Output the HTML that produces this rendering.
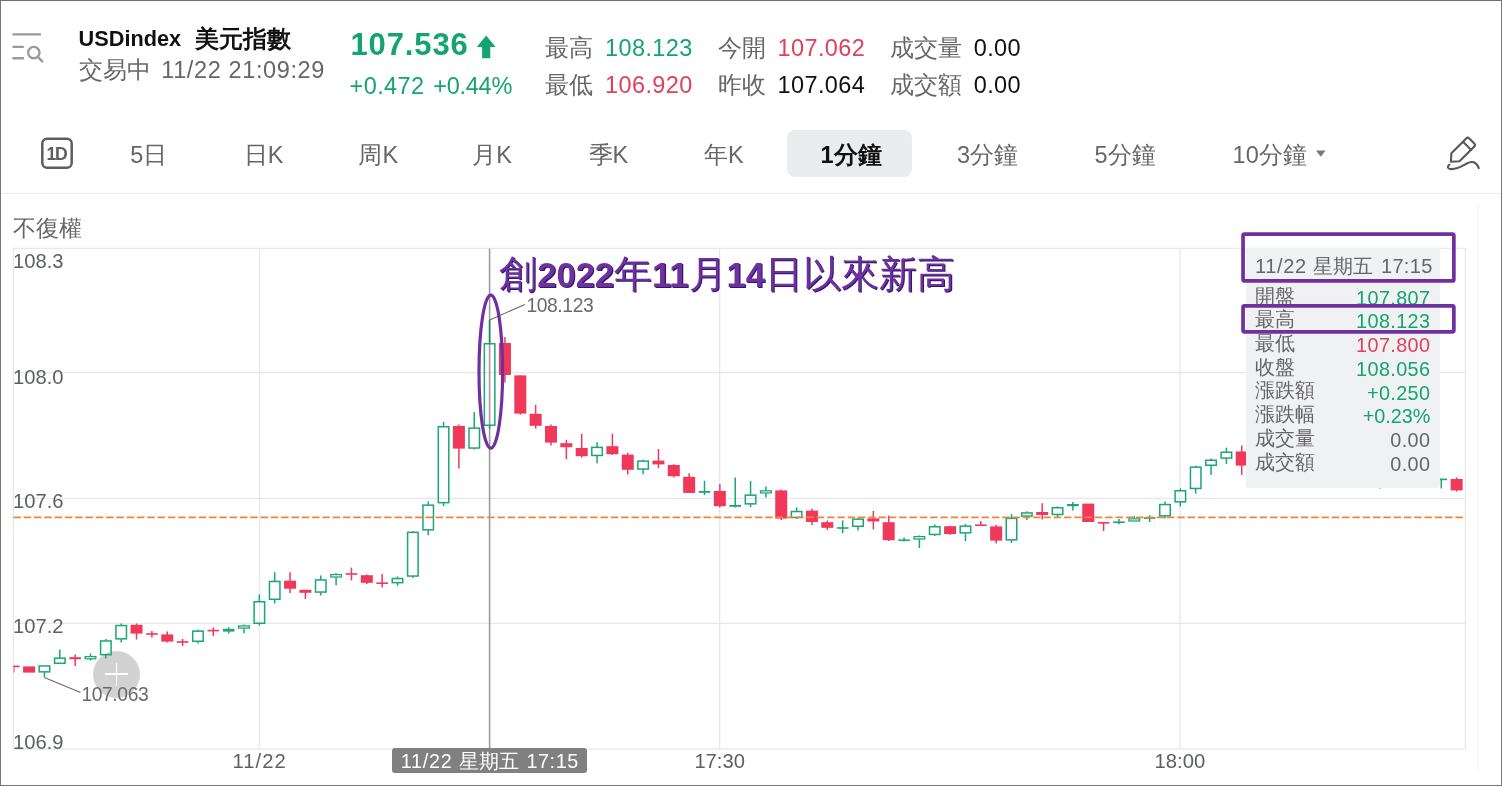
<!DOCTYPE html>
<html lang="zh-Hant">
<head>
<meta charset="utf-8">
<title>USDindex 美元指數</title>
<style>
*{margin:0;padding:0;box-sizing:border-box}
html,body{width:1502px;height:786px;overflow:hidden;background:#fff}
body{position:relative;will-change:transform;font-family:"Liberation Sans",sans-serif;color:#666;-webkit-font-smoothing:antialiased}
.t{position:absolute;white-space:nowrap;line-height:1;font-size:23.5px}
.n{letter-spacing:.4px}
.cj{display:inline-block;white-space:nowrap;font-size:23.5px;letter-spacing:0}
.g{color:#14a46f}
.r{color:#e0405c}
.k{color:#111}
.b{font-weight:bold}
.frame{position:absolute;left:0;top:0;width:1502px;height:786px;border:1px solid #777;border-top-color:#6e6e6e;pointer-events:none}
.sep{position:absolute;left:1px;top:193px;width:1500px;height:1px;background:#ececec}
.tab{top:144.1px}
.sel{position:absolute;left:787px;top:129.5px;width:125px;height:47.5px;border-radius:8px;background:#ebecee}
.ax{font-size:20.2px;color:#5c5f64}
.tip{position:absolute;left:1245.5px;top:248px;width:194.5px;height:239.6px;background:#f0f1f3;border-radius:0 0 3px 3px}
.tip .t{font-size:19.8px}
.tip .cj{font-size:19.8px}
.tag{position:absolute;left:392px;top:748px;width:195px;height:25px;border-radius:3px;background:#808080}
.tag .t{color:#fff;font-size:19.8px}
.tag .cj{font-size:20px}
.pbox{position:absolute;border:3.6px solid #7030a0;border-radius:2px}
.note{position:absolute;left:499.3px;top:255.3px;white-space:nowrap;line-height:1;font-family:"Liberation Serif",serif;font-weight:normal;font-size:38px;color:#7030a0;text-shadow:1.1px .5px 0 #2a1868}
.note b{font-family:"Liberation Sans",sans-serif;font-size:34.5px;font-weight:bold}
.plus{position:absolute;left:93px;top:650.5px;width:47px;height:47px;border-radius:50%;background:#d2d2d2}
.plus:before,.plus:after{content:"";position:absolute;background:#fff}
.plus:before{left:12px;top:22.7px;width:23px;height:1.7px}
.plus:after{left:22.7px;top:12px;width:1.7px;height:23px}
svg{position:absolute;left:0;top:0}
</style>
</head>
<body>

<!-- header -->
<svg width="60" height="80" viewBox="0 0 60 80" fill="none" stroke="#9a9a9a" stroke-width="2.35" stroke-linecap="round">
<path d="M13.4 34.4H40M13.4 46.8H23M13.4 58.2H23"/>
<circle cx="33.8" cy="52.6" r="5.7"/>
<path d="M38 57l4.2 4.4"/>
</svg>

<div class="t b k" style="left:78.6px;top:28.4px;font-size:21.7px">USDindex</div>
<div class="t b k" style="left:194.6px;top:27.5px"><span class="cj" style="width:95px;font-size:23.7px">美元指數</span></div>
<div class="t" style="left:78.6px;top:58.6px"><span class="cj" style="width:82.6px">交易中</span><span style="letter-spacing:.62px">11/22 21:09:29</span></div>

<div class="t b g" style="left:350.4px;top:28.5px;font-size:31px;letter-spacing:.9px">107.536</div>
<svg width="30" height="30" viewBox="0 0 30 30" style="left:472px;top:32px"><path d="M14.2 3.5L4.8 14.9h5.3v11.4h8.2V14.9h5.3z" fill="#14a46f"/></svg>
<div class="t g n" style="left:349.6px;top:75.3px">+0.472</div>
<div class="t g" style="left:433.2px;top:75.3px;letter-spacing:-.25px">+0.44%</div>

<div class="t" style="left:545px;top:36.5px"><span class="cj" style="width:60px">最高</span><span class="g n">108.123</span></div>
<div class="t" style="left:545px;top:74.3px"><span class="cj" style="width:60px">最低</span><span class="r n">106.920</span></div>
<div class="t" style="left:718.2px;top:36.5px"><span class="cj" style="width:59.3px">今開</span><span class="r n">107.062</span></div>
<div class="t" style="left:718.2px;top:74.3px"><span class="cj" style="width:59.3px">昨收</span><span class="k n">107.064</span></div>
<div class="t" style="left:890.3px;top:36.5px"><span class="cj" style="width:83.4px">成交量</span><span class="k n">0.00</span></div>
<div class="t" style="left:890.3px;top:74.3px"><span class="cj" style="width:83.4px">成交額</span><span class="k n">0.00</span></div>

<!-- period tabs -->
<div class="sel"></div>
<svg width="40" height="40" viewBox="0 0 40 40" style="left:37px;top:133px" fill="none" stroke="#5e5e5e" stroke-width="2.5"><rect x="5.3" y="5.7" width="29.4" height="29" rx="4.8"/></svg>
<div class="t b" style="left:46.4px;top:146.4px;font-size:17.6px;letter-spacing:-1.2px;color:#5e5e5e">1D</div>
<div class="t tab" style="left:130.2px">5<span class="cj">日</span></div>
<div class="t tab" style="left:243.8px"><span class="cj">日</span>K</div>
<div class="t tab" style="left:358.4px"><span class="cj">周</span>K</div>
<div class="t tab" style="left:472.3px"><span class="cj">月</span>K</div>
<div class="t tab" style="left:588.6px"><span class="cj">季</span>K</div>
<div class="t tab" style="left:704px"><span class="cj">年</span>K</div>
<div class="t tab b k" style="left:820.5px">1<span class="cj">分鐘</span></div>
<div class="t tab" style="left:957px">3<span class="cj">分鐘</span></div>
<div class="t tab" style="left:1094.6px">5<span class="cj">分鐘</span></div>
<div class="t tab" style="left:1232.4px"><span class="n">10</span><span class="cj">分鐘</span></div>
<svg width="12" height="8" viewBox="0 0 12 8" style="left:1315.4px;top:150px"><path d="M1 .4h9.6L5.8 6.8z" fill="#787878"/></svg>
<svg width="40" height="44" viewBox="1444 132 40 44" style="left:1444px;top:132px" fill="none" stroke="#585858" stroke-width="2.1" stroke-linecap="round" stroke-linejoin="round">
<path d="M1451.4 153.2L1466.2 138.4a2.2 2.2 0 0 1 3.1 0l5 5a2.2 2.2 0 0 1 0 3.1L1459.5 161.3l-8.6 .5z"/>
<path d="M1463 141.8l8.2 8.2"/>
<path d="M1449.4 164.6c-2.2 1.6-2 4 .6 4.4c6 .9 11-2.300 16.800-5.500c5.6-3.100 9.400-1.600 12 4.600"/>
</svg>
<div class="sep"></div>

<!-- chart -->
<div class="plus"></div>
<div class="t" style="left:12.8px;top:217.4px"><span class="cj" style="font-size:23px">不復權</span></div>

<svg width="1502" height="786" viewBox="0 0 1502 786" shape-rendering="auto">
<g stroke="#e6e8ea" stroke-width="1.3" fill="none">
<rect x="13.4" y="248.4" width="1452" height="500.6"/>
<path d="M13.4 372.7H1465.4M13.4 498.3H1465.4M13.4 623.3H1465.4"/>
<path d="M259.5 248.4V749M719.6 248.4V749M1180 248.4V749"/>
</g>
<path d="M1478 205V770" stroke="#f1f2f3" stroke-width="1.2"/>
<line x1="489.6" y1="248.4" x2="489.6" y2="749" stroke="#9c9c9c" stroke-width="1.6"/>
<clipPath id="cc"><rect x="13.6" y="248" width="1452" height="501"/></clipPath>
<g clip-path="url(#cc)">
<line x1="13.75" y1="665.6" x2="13.75" y2="672.4" stroke="#f0385a" stroke-width="1.5"/>
<rect x="7.95" y="665.6" width="11.6" height="1.6" fill="#f0385a"/>
<rect x="23.1" y="666.4" width="12" height="6.2" fill="#f0385a"/>
<line x1="44.45" y1="672.2" x2="44.45" y2="677.6" stroke="#1ba672" stroke-width="1.5"/>
<rect x="39.2" y="665.95" width="10.5" height="5.9" fill="none" stroke="#1ba672" stroke-width="1.5"/>
<line x1="59.8" y1="649.4" x2="59.8" y2="657.8" stroke="#1ba672" stroke-width="1.5"/>
<rect x="54.55" y="658.15" width="10.5" height="5.1" fill="none" stroke="#1ba672" stroke-width="1.5"/>
<line x1="75.15" y1="654.4" x2="75.15" y2="666" stroke="#f0385a" stroke-width="1.5"/>
<rect x="69.35" y="657.2" width="11.6" height="2" fill="#f0385a"/>
<line x1="90.5" y1="653.6" x2="90.5" y2="656.4" stroke="#1ba672" stroke-width="1.5"/>
<line x1="90.5" y1="659" x2="90.5" y2="660.4" stroke="#1ba672" stroke-width="1.5"/>
<rect x="85.12" y="656.62" width="10.75" height="2.15" fill="none" stroke="#1ba672" stroke-width="1.25"/>
<line x1="105.85" y1="639" x2="105.85" y2="640.6" stroke="#1ba672" stroke-width="1.5"/>
<line x1="105.85" y1="655" x2="105.85" y2="658.6" stroke="#1ba672" stroke-width="1.5"/>
<rect x="100.6" y="640.95" width="10.5" height="13.7" fill="none" stroke="#1ba672" stroke-width="1.5"/>
<line x1="121.2" y1="623.6" x2="121.2" y2="625.2" stroke="#1ba672" stroke-width="1.5"/>
<line x1="121.2" y1="639.2" x2="121.2" y2="642.4" stroke="#1ba672" stroke-width="1.5"/>
<rect x="115.95" y="625.55" width="10.5" height="13.3" fill="none" stroke="#1ba672" stroke-width="1.5"/>
<line x1="136.55" y1="623.6" x2="136.55" y2="639.4" stroke="#f0385a" stroke-width="1.5"/>
<rect x="130.55" y="624.8" width="12" height="8.8" fill="#f0385a"/>
<line x1="151.9" y1="631" x2="151.9" y2="637.6" stroke="#f0385a" stroke-width="1.5"/>
<rect x="146.1" y="633.2" width="11.6" height="1.6" fill="#f0385a"/>
<line x1="167.25" y1="631.4" x2="167.25" y2="642.4" stroke="#f0385a" stroke-width="1.5"/>
<rect x="161.25" y="634.4" width="12" height="7.2" fill="#f0385a"/>
<line x1="182.6" y1="639" x2="182.6" y2="646" stroke="#f0385a" stroke-width="1.5"/>
<rect x="176.8" y="641.2" width="11.6" height="1.6" fill="#f0385a"/>
<line x1="197.95" y1="629.6" x2="197.95" y2="630.8" stroke="#1ba672" stroke-width="1.5"/>
<line x1="197.95" y1="641.6" x2="197.95" y2="643.6" stroke="#1ba672" stroke-width="1.5"/>
<rect x="192.7" y="631.15" width="10.5" height="10.1" fill="none" stroke="#1ba672" stroke-width="1.5"/>
<line x1="213.3" y1="627.6" x2="213.3" y2="636" stroke="#f0385a" stroke-width="1.5"/>
<rect x="207.5" y="629.8" width="11.6" height="1.6" fill="#f0385a"/>
<line x1="228.65" y1="627.2" x2="228.65" y2="633.6" stroke="#1ba672" stroke-width="1.5"/>
<rect x="222.85" y="628.8" width="11.6" height="2.8" fill="#1ba672"/>
<line x1="244" y1="624.4" x2="244" y2="625.7" stroke="#1ba672" stroke-width="1.5"/>
<line x1="244" y1="628.3" x2="244" y2="633.2" stroke="#1ba672" stroke-width="1.5"/>
<rect x="238.62" y="625.92" width="10.75" height="2.15" fill="none" stroke="#1ba672" stroke-width="1.25"/>
<line x1="259.35" y1="594.4" x2="259.35" y2="601.4" stroke="#1ba672" stroke-width="1.5"/>
<line x1="259.35" y1="623.6" x2="259.35" y2="625.4" stroke="#1ba672" stroke-width="1.5"/>
<rect x="254.1" y="601.75" width="10.5" height="21.5" fill="none" stroke="#1ba672" stroke-width="1.5"/>
<line x1="274.7" y1="572.2" x2="274.7" y2="581.1" stroke="#1ba672" stroke-width="1.5"/>
<line x1="274.7" y1="599.6" x2="274.7" y2="603.5" stroke="#1ba672" stroke-width="1.5"/>
<rect x="269.45" y="581.45" width="10.5" height="17.8" fill="none" stroke="#1ba672" stroke-width="1.5"/>
<line x1="290.05" y1="572.2" x2="290.05" y2="593.1" stroke="#f0385a" stroke-width="1.5"/>
<rect x="284.05" y="580.7" width="12" height="8" fill="#f0385a"/>
<line x1="305.4" y1="589.8" x2="305.4" y2="599" stroke="#f0385a" stroke-width="1.5"/>
<rect x="299.4" y="589.8" width="12" height="3" fill="#f0385a"/>
<line x1="320.75" y1="575.6" x2="320.75" y2="579.6" stroke="#1ba672" stroke-width="1.5"/>
<line x1="320.75" y1="592.4" x2="320.75" y2="595.6" stroke="#1ba672" stroke-width="1.5"/>
<rect x="315.5" y="579.95" width="10.5" height="12.1" fill="none" stroke="#1ba672" stroke-width="1.5"/>
<line x1="336.1" y1="573.2" x2="336.1" y2="574.4" stroke="#1ba672" stroke-width="1.5"/>
<line x1="336.1" y1="577.2" x2="336.1" y2="585.2" stroke="#1ba672" stroke-width="1.5"/>
<rect x="330.72" y="574.62" width="10.75" height="2.35" fill="none" stroke="#1ba672" stroke-width="1.25"/>
<line x1="351.45" y1="567.6" x2="351.45" y2="580.4" stroke="#f0385a" stroke-width="1.5"/>
<rect x="345.65" y="573.2" width="11.6" height="1.6" fill="#f0385a"/>
<line x1="366.8" y1="574.4" x2="366.8" y2="584" stroke="#f0385a" stroke-width="1.5"/>
<rect x="360.8" y="575.2" width="12" height="7.6" fill="#f0385a"/>
<line x1="382.15" y1="574" x2="382.15" y2="587.6" stroke="#f0385a" stroke-width="1.5"/>
<rect x="376.35" y="582.4" width="11.6" height="1.6" fill="#f0385a"/>
<line x1="397.5" y1="576.4" x2="397.5" y2="578.2" stroke="#1ba672" stroke-width="1.5"/>
<line x1="397.5" y1="583" x2="397.5" y2="585.8" stroke="#1ba672" stroke-width="1.5"/>
<rect x="392.25" y="578.55" width="10.5" height="4.1" fill="none" stroke="#1ba672" stroke-width="1.5"/>
<line x1="412.85" y1="531" x2="412.85" y2="532" stroke="#1ba672" stroke-width="1.5"/>
<line x1="412.85" y1="576.4" x2="412.85" y2="578" stroke="#1ba672" stroke-width="1.5"/>
<rect x="407.6" y="532.35" width="10.5" height="43.7" fill="none" stroke="#1ba672" stroke-width="1.5"/>
<line x1="428.2" y1="501.6" x2="428.2" y2="504.8" stroke="#1ba672" stroke-width="1.5"/>
<line x1="428.2" y1="530.2" x2="428.2" y2="535.2" stroke="#1ba672" stroke-width="1.5"/>
<rect x="422.95" y="505.15" width="10.5" height="24.7" fill="none" stroke="#1ba672" stroke-width="1.5"/>
<line x1="443.55" y1="421.8" x2="443.55" y2="426.4" stroke="#1ba672" stroke-width="1.5"/>
<line x1="443.55" y1="503" x2="443.55" y2="506" stroke="#1ba672" stroke-width="1.5"/>
<rect x="438.3" y="426.75" width="10.5" height="75.9" fill="none" stroke="#1ba672" stroke-width="1.5"/>
<line x1="458.9" y1="424.6" x2="458.9" y2="468.6" stroke="#f0385a" stroke-width="1.5"/>
<rect x="452.9" y="426" width="12" height="22.6" fill="#f0385a"/>
<line x1="474.25" y1="412" x2="474.25" y2="427.8" stroke="#1ba672" stroke-width="1.5"/>
<line x1="474.25" y1="448.4" x2="474.25" y2="449.6" stroke="#1ba672" stroke-width="1.5"/>
<rect x="469" y="428.15" width="10.5" height="19.9" fill="none" stroke="#1ba672" stroke-width="1.5"/>
<line x1="489.6" y1="320" x2="489.6" y2="343.4" stroke="#0e8a5c" stroke-width="1.5"/>
<line x1="489.6" y1="425.6" x2="489.6" y2="428.8" stroke="#1ba672" stroke-width="1.5"/>
<rect x="484.35" y="343.75" width="10.5" height="81.5" fill="none" stroke="#1ba672" stroke-width="1.5"/>
<line x1="504.95" y1="337" x2="504.95" y2="382.6" stroke="#f0385a" stroke-width="1.5"/>
<rect x="498.95" y="343" width="12" height="32" fill="#f0385a"/>
<line x1="520.3" y1="375.4" x2="520.3" y2="414.6" stroke="#f0385a" stroke-width="1.5"/>
<rect x="514.3" y="375.4" width="12" height="38.2" fill="#f0385a"/>
<line x1="535.65" y1="404.7" x2="535.65" y2="428.6" stroke="#f0385a" stroke-width="1.5"/>
<rect x="529.65" y="413.8" width="12" height="12" fill="#f0385a"/>
<line x1="551" y1="424.5" x2="551" y2="445.4" stroke="#f0385a" stroke-width="1.5"/>
<rect x="545" y="426" width="12" height="16.6" fill="#f0385a"/>
<line x1="566.35" y1="439.8" x2="566.35" y2="459.2" stroke="#f0385a" stroke-width="1.5"/>
<rect x="560.35" y="443.2" width="12" height="4" fill="#f0385a"/>
<line x1="581.7" y1="434" x2="581.7" y2="457.6" stroke="#f0385a" stroke-width="1.5"/>
<rect x="575.7" y="448" width="12" height="8.2" fill="#f0385a"/>
<line x1="597.05" y1="442.2" x2="597.05" y2="447" stroke="#1ba672" stroke-width="1.5"/>
<line x1="597.05" y1="455.8" x2="597.05" y2="463.2" stroke="#1ba672" stroke-width="1.5"/>
<rect x="591.8" y="447.35" width="10.5" height="8.1" fill="none" stroke="#1ba672" stroke-width="1.5"/>
<line x1="612.4" y1="433.6" x2="612.4" y2="455" stroke="#f0385a" stroke-width="1.5"/>
<rect x="606.4" y="446.2" width="12" height="8" fill="#f0385a"/>
<line x1="627.75" y1="452.8" x2="627.75" y2="474.6" stroke="#f0385a" stroke-width="1.5"/>
<rect x="621.75" y="454.6" width="12" height="15.2" fill="#f0385a"/>
<line x1="643.1" y1="459.6" x2="643.1" y2="460.8" stroke="#1ba672" stroke-width="1.5"/>
<line x1="643.1" y1="469.4" x2="643.1" y2="474.2" stroke="#1ba672" stroke-width="1.5"/>
<rect x="637.85" y="461.15" width="10.5" height="7.9" fill="none" stroke="#1ba672" stroke-width="1.5"/>
<line x1="658.45" y1="449" x2="658.45" y2="468.2" stroke="#f0385a" stroke-width="1.5"/>
<rect x="652.45" y="460.6" width="12" height="3.8" fill="#f0385a"/>
<line x1="673.8" y1="464.2" x2="673.8" y2="477.6" stroke="#f0385a" stroke-width="1.5"/>
<rect x="667.8" y="465" width="12" height="11.2" fill="#f0385a"/>
<line x1="689.15" y1="473.2" x2="689.15" y2="492.9" stroke="#f0385a" stroke-width="1.5"/>
<rect x="683.15" y="476.8" width="12" height="16.1" fill="#f0385a"/>
<line x1="704.5" y1="480.8" x2="704.5" y2="495" stroke="#1ba672" stroke-width="1.5"/>
<rect x="698.7" y="491" width="11.6" height="1.8" fill="#1ba672"/>
<line x1="719.85" y1="484" x2="719.85" y2="507.4" stroke="#f0385a" stroke-width="1.5"/>
<rect x="713.85" y="491" width="12" height="15.2" fill="#f0385a"/>
<line x1="735.2" y1="477.4" x2="735.2" y2="507.4" stroke="#1ba672" stroke-width="1.5"/>
<rect x="729.4" y="505" width="11.6" height="1.8" fill="#1ba672"/>
<line x1="750.55" y1="481" x2="750.55" y2="494.8" stroke="#1ba672" stroke-width="1.5"/>
<line x1="750.55" y1="504.2" x2="750.55" y2="507.2" stroke="#1ba672" stroke-width="1.5"/>
<rect x="745.3" y="495.15" width="10.5" height="8.7" fill="none" stroke="#1ba672" stroke-width="1.5"/>
<line x1="765.9" y1="486.4" x2="765.9" y2="490.6" stroke="#1ba672" stroke-width="1.5"/>
<line x1="765.9" y1="493.2" x2="765.9" y2="497.6" stroke="#1ba672" stroke-width="1.5"/>
<rect x="760.52" y="490.82" width="10.75" height="2.15" fill="none" stroke="#1ba672" stroke-width="1.25"/>
<line x1="781.25" y1="489.6" x2="781.25" y2="520" stroke="#f0385a" stroke-width="1.5"/>
<rect x="775.25" y="490.4" width="12" height="28.2" fill="#f0385a"/>
<line x1="796.6" y1="507.4" x2="796.6" y2="511.2" stroke="#1ba672" stroke-width="1.5"/>
<line x1="796.6" y1="517.8" x2="796.6" y2="519" stroke="#1ba672" stroke-width="1.5"/>
<rect x="791.35" y="511.55" width="10.5" height="5.9" fill="none" stroke="#1ba672" stroke-width="1.5"/>
<line x1="811.95" y1="508.8" x2="811.95" y2="525" stroke="#f0385a" stroke-width="1.5"/>
<rect x="805.95" y="510.6" width="12" height="11.4" fill="#f0385a"/>
<line x1="827.3" y1="520.6" x2="827.3" y2="530" stroke="#f0385a" stroke-width="1.5"/>
<rect x="821.3" y="522.2" width="12" height="5.6" fill="#f0385a"/>
<line x1="842.65" y1="520.4" x2="842.65" y2="533.2" stroke="#1ba672" stroke-width="1.5"/>
<rect x="836.85" y="527.2" width="11.6" height="1.6" fill="#1ba672"/>
<line x1="858" y1="517.6" x2="858" y2="518.8" stroke="#1ba672" stroke-width="1.5"/>
<line x1="858" y1="526.6" x2="858" y2="530.6" stroke="#1ba672" stroke-width="1.5"/>
<rect x="852.75" y="519.15" width="10.5" height="7.1" fill="none" stroke="#1ba672" stroke-width="1.5"/>
<line x1="873.35" y1="511" x2="873.35" y2="529.4" stroke="#f0385a" stroke-width="1.5"/>
<rect x="867.35" y="518.4" width="12" height="3" fill="#f0385a"/>
<line x1="888.7" y1="515.6" x2="888.7" y2="541" stroke="#f0385a" stroke-width="1.5"/>
<rect x="882.7" y="522.2" width="12" height="18" fill="#f0385a"/>
<line x1="904.05" y1="537.6" x2="904.05" y2="541.6" stroke="#1ba672" stroke-width="1.5"/>
<rect x="898.25" y="539.4" width="11.6" height="1.6" fill="#1ba672"/>
<line x1="919.4" y1="535.4" x2="919.4" y2="536.4" stroke="#1ba672" stroke-width="1.5"/>
<line x1="919.4" y1="539.2" x2="919.4" y2="548" stroke="#1ba672" stroke-width="1.5"/>
<rect x="914.02" y="536.62" width="10.75" height="2.35" fill="none" stroke="#1ba672" stroke-width="1.25"/>
<line x1="934.75" y1="524.4" x2="934.75" y2="526.4" stroke="#1ba672" stroke-width="1.5"/>
<line x1="934.75" y1="534.8" x2="934.75" y2="536" stroke="#1ba672" stroke-width="1.5"/>
<rect x="929.5" y="526.75" width="10.5" height="7.7" fill="none" stroke="#1ba672" stroke-width="1.5"/>
<line x1="950.1" y1="525.8" x2="950.1" y2="535" stroke="#f0385a" stroke-width="1.5"/>
<rect x="944.1" y="526.2" width="12" height="7.8" fill="#f0385a"/>
<line x1="965.45" y1="524" x2="965.45" y2="525.8" stroke="#1ba672" stroke-width="1.5"/>
<line x1="965.45" y1="533.2" x2="965.45" y2="541.2" stroke="#1ba672" stroke-width="1.5"/>
<rect x="960.2" y="526.15" width="10.5" height="6.7" fill="none" stroke="#1ba672" stroke-width="1.5"/>
<line x1="980.8" y1="521" x2="980.8" y2="526" stroke="#f0385a" stroke-width="1.5"/>
<rect x="975" y="524.4" width="11.6" height="1.6" fill="#f0385a"/>
<line x1="996.15" y1="524.8" x2="996.15" y2="543.6" stroke="#f0385a" stroke-width="1.5"/>
<rect x="990.15" y="526.4" width="12" height="14.2" fill="#f0385a"/>
<line x1="1011.5" y1="514" x2="1011.5" y2="518" stroke="#1ba672" stroke-width="1.5"/>
<line x1="1011.5" y1="540.2" x2="1011.5" y2="543" stroke="#1ba672" stroke-width="1.5"/>
<rect x="1006.25" y="518.35" width="10.5" height="21.5" fill="none" stroke="#1ba672" stroke-width="1.5"/>
<line x1="1026.85" y1="511.2" x2="1026.85" y2="512.6" stroke="#1ba672" stroke-width="1.5"/>
<line x1="1026.85" y1="516.4" x2="1026.85" y2="520" stroke="#1ba672" stroke-width="1.5"/>
<rect x="1021.6" y="512.95" width="10.5" height="3.1" fill="none" stroke="#1ba672" stroke-width="1.5"/>
<line x1="1042.2" y1="503.2" x2="1042.2" y2="519.6" stroke="#f0385a" stroke-width="1.5"/>
<rect x="1036.2" y="512" width="12" height="3" fill="#f0385a"/>
<line x1="1057.55" y1="506.4" x2="1057.55" y2="507.4" stroke="#1ba672" stroke-width="1.5"/>
<line x1="1057.55" y1="514.8" x2="1057.55" y2="517.4" stroke="#1ba672" stroke-width="1.5"/>
<rect x="1052.3" y="507.75" width="10.5" height="6.7" fill="none" stroke="#1ba672" stroke-width="1.5"/>
<line x1="1072.9" y1="502" x2="1072.9" y2="510.6" stroke="#1ba672" stroke-width="1.5"/>
<rect x="1067.1" y="504" width="11.6" height="2.2" fill="#1ba672"/>
<rect x="1082.25" y="503.6" width="12" height="18.4" fill="#f0385a"/>
<line x1="1103.6" y1="522" x2="1103.6" y2="531" stroke="#f0385a" stroke-width="1.5"/>
<rect x="1097.8" y="522" width="11.6" height="1.6" fill="#f0385a"/>
<line x1="1118.95" y1="519" x2="1118.95" y2="524.2" stroke="#1ba672" stroke-width="1.5"/>
<rect x="1113.15" y="521.4" width="11.6" height="1.6" fill="#1ba672"/>
<line x1="1134.3" y1="516" x2="1134.3" y2="518.6" stroke="#1ba672" stroke-width="1.5"/>
<rect x="1128.92" y="518.83" width="10.75" height="2.15" fill="none" stroke="#1ba672" stroke-width="1.25"/>
<line x1="1149.65" y1="515.2" x2="1149.65" y2="522" stroke="#1ba672" stroke-width="1.5"/>
<rect x="1143.85" y="517.2" width="11.6" height="1.6" fill="#1ba672"/>
<line x1="1165" y1="501.6" x2="1165" y2="504.2" stroke="#1ba672" stroke-width="1.5"/>
<line x1="1165" y1="516.2" x2="1165" y2="518.4" stroke="#1ba672" stroke-width="1.5"/>
<rect x="1159.75" y="504.55" width="10.5" height="11.3" fill="none" stroke="#1ba672" stroke-width="1.5"/>
<line x1="1180.35" y1="488.4" x2="1180.35" y2="490.4" stroke="#1ba672" stroke-width="1.5"/>
<line x1="1180.35" y1="502.2" x2="1180.35" y2="506.4" stroke="#1ba672" stroke-width="1.5"/>
<rect x="1175.1" y="490.75" width="10.5" height="11.1" fill="none" stroke="#1ba672" stroke-width="1.5"/>
<line x1="1195.7" y1="465.6" x2="1195.7" y2="466.8" stroke="#1ba672" stroke-width="1.5"/>
<line x1="1195.7" y1="488.8" x2="1195.7" y2="493.6" stroke="#1ba672" stroke-width="1.5"/>
<rect x="1190.45" y="467.15" width="10.5" height="21.3" fill="none" stroke="#1ba672" stroke-width="1.5"/>
<line x1="1211.05" y1="458.4" x2="1211.05" y2="459.9" stroke="#1ba672" stroke-width="1.5"/>
<line x1="1211.05" y1="465.6" x2="1211.05" y2="475" stroke="#1ba672" stroke-width="1.5"/>
<rect x="1205.8" y="460.25" width="10.5" height="5" fill="none" stroke="#1ba672" stroke-width="1.5"/>
<line x1="1226.4" y1="447.6" x2="1226.4" y2="451.9" stroke="#1ba672" stroke-width="1.5"/>
<line x1="1226.4" y1="458.4" x2="1226.4" y2="464" stroke="#1ba672" stroke-width="1.5"/>
<rect x="1221.15" y="452.25" width="10.5" height="5.8" fill="none" stroke="#1ba672" stroke-width="1.5"/>
<line x1="1241.75" y1="445.6" x2="1241.75" y2="475" stroke="#f0385a" stroke-width="1.5"/>
<rect x="1235.75" y="451.5" width="12" height="14.1" fill="#f0385a"/>
<line x1="1257.1" y1="444" x2="1257.1" y2="446.4" stroke="#1ba672" stroke-width="1.5"/>
<line x1="1257.1" y1="451.6" x2="1257.1" y2="455" stroke="#1ba672" stroke-width="1.5"/>
<rect x="1251.85" y="446.75" width="10.5" height="4.5" fill="none" stroke="#1ba672" stroke-width="1.5"/>
<line x1="1272.45" y1="445" x2="1272.45" y2="458" stroke="#f0385a" stroke-width="1.5"/>
<rect x="1266.45" y="447" width="12" height="8" fill="#f0385a"/>
<line x1="1287.8" y1="448" x2="1287.8" y2="450.4" stroke="#1ba672" stroke-width="1.5"/>
<line x1="1287.8" y1="455.6" x2="1287.8" y2="459" stroke="#1ba672" stroke-width="1.5"/>
<rect x="1282.55" y="450.75" width="10.5" height="4.5" fill="none" stroke="#1ba672" stroke-width="1.5"/>
<line x1="1303.15" y1="450" x2="1303.15" y2="465" stroke="#f0385a" stroke-width="1.5"/>
<rect x="1297.15" y="452" width="12" height="10" fill="#f0385a"/>
<line x1="1318.5" y1="457" x2="1318.5" y2="470" stroke="#f0385a" stroke-width="1.5"/>
<rect x="1312.5" y="460" width="12" height="8" fill="#f0385a"/>
<line x1="1333.85" y1="460" x2="1333.85" y2="462.4" stroke="#1ba672" stroke-width="1.5"/>
<line x1="1333.85" y1="467.6" x2="1333.85" y2="471" stroke="#1ba672" stroke-width="1.5"/>
<rect x="1328.6" y="462.75" width="10.5" height="4.5" fill="none" stroke="#1ba672" stroke-width="1.5"/>
<line x1="1349.2" y1="462" x2="1349.2" y2="476" stroke="#f0385a" stroke-width="1.5"/>
<rect x="1343.2" y="464" width="12" height="8" fill="#f0385a"/>
<line x1="1364.55" y1="466" x2="1364.55" y2="468.4" stroke="#1ba672" stroke-width="1.5"/>
<line x1="1364.55" y1="473.6" x2="1364.55" y2="478" stroke="#1ba672" stroke-width="1.5"/>
<rect x="1359.3" y="468.75" width="10.5" height="4.5" fill="none" stroke="#1ba672" stroke-width="1.5"/>
<line x1="1379.9" y1="468" x2="1379.9" y2="470.4" stroke="#1ba672" stroke-width="1.5"/>
<line x1="1379.9" y1="477.6" x2="1379.9" y2="488.6" stroke="#1ba672" stroke-width="1.5"/>
<rect x="1374.65" y="470.75" width="10.5" height="6.5" fill="none" stroke="#1ba672" stroke-width="1.5"/>
<line x1="1395.25" y1="468" x2="1395.25" y2="480" stroke="#f0385a" stroke-width="1.5"/>
<rect x="1389.25" y="470" width="12" height="8" fill="#f0385a"/>
<line x1="1410.6" y1="470" x2="1410.6" y2="472.4" stroke="#1ba672" stroke-width="1.5"/>
<line x1="1410.6" y1="478.6" x2="1410.6" y2="482" stroke="#1ba672" stroke-width="1.5"/>
<rect x="1405.35" y="472.75" width="10.5" height="5.5" fill="none" stroke="#1ba672" stroke-width="1.5"/>
<line x1="1425.95" y1="472" x2="1425.95" y2="484" stroke="#f0385a" stroke-width="1.5"/>
<rect x="1419.95" y="474" width="12" height="7" fill="#f0385a"/>
<line x1="1441.3" y1="478.6" x2="1441.3" y2="488.6" stroke="#1ba672" stroke-width="1.5"/>
<rect x="1435.5" y="478.6" width="11.6" height="1.6" fill="#1ba672"/>
<line x1="1456.65" y1="477.6" x2="1456.65" y2="491.6" stroke="#f0385a" stroke-width="1.5"/>
<rect x="1450.65" y="479" width="12" height="11.4" fill="#f0385a"/>
</g>
<line x1="13.4" y1="517.4" x2="1465.4" y2="517.4" stroke="#f0843a" stroke-width="1.8" stroke-dasharray="7.4 2.9"/>
<path d="M489.6 320L525 304.4" stroke="#6a6a6a" stroke-width="1.1"/>
<path d="M44.4 677.6L80.5 692.4" stroke="#6a6a6a" stroke-width="1.1"/>
</svg>

<div class="t ax" style="left:13px;top:250.9px">108.3</div>
<div class="t ax" style="left:13px;top:367.4px">108.0</div>
<div class="t ax" style="left:13px;top:490.6px">107.6</div>
<div class="t ax" style="left:13px;top:616.4px">107.2</div>
<div class="t ax" style="left:13px;top:731.9px">106.9</div>
<div class="t ax" style="left:232.4px;top:750.9px;letter-spacing:1.1px">11/22</div>
<div class="t ax" style="left:694.4px;top:750.9px">17:30</div>
<div class="t ax" style="left:1154.6px;top:750.9px">18:00</div>

<div class="t" style="left:526.4px;top:296.2px;font-size:19.3px;letter-spacing:-.4px;color:#6a6a6a">108.123</div>
<div class="t" style="left:81.4px;top:685px;font-size:19.3px;letter-spacing:-.4px;color:#6a6a6a">107.063</div>

<!-- OHLC tooltip -->
<div class="tip">
<div class="t" style="left:9.6px;top:7.6px;font-size:20px"><span style="letter-spacing:.6px">11/22 </span><span class="cj" style="width:68.2px;font-size:20.4px">星期五</span><span style="letter-spacing:.3px">17:15</span></div>
<div class="t" style="left:9.4px;top:38.6px"><span class="cj">開盤</span></div><div class="t g n" style="right:9.6px;top:40.7px">107.807</div>
<div class="t" style="left:9.4px;top:62.3px"><span class="cj">最高</span></div><div class="t g n" style="right:9.6px;top:64.4px">108.123</div>
<div class="t" style="left:9.4px;top:86px"><span class="cj">最低</span></div><div class="t r n" style="right:9.6px;top:88.1px">107.800</div>
<div class="t" style="left:9.4px;top:109.7px"><span class="cj">收盤</span></div><div class="t g n" style="right:9.6px;top:111.8px">108.056</div>
<div class="t" style="left:9.4px;top:133.4px"><span class="cj">漲跌額</span></div><div class="t g n" style="right:9.6px;top:135.5px">+0.250</div>
<div class="t" style="left:9.4px;top:157.1px"><span class="cj">漲跌幅</span></div><div class="t g" style="right:9.6px;top:159.2px">+0.23%</div>
<div class="t" style="left:9.4px;top:180.8px"><span class="cj">成交量</span></div><div class="t n" style="right:9.6px;top:182.9px">0.00</div>
<div class="t" style="left:9.4px;top:204.5px"><span class="cj">成交額</span></div><div class="t n" style="right:9.6px;top:206.6px">0.00</div>
</div>

<!-- crosshair time tag -->
<div class="tag"><div class="t" style="left:8.8px;top:2.6px"><span style="letter-spacing:.75px">11/22 </span><span class="cj" style="width:67.6px;font-size:20.3px">星期五</span><span style="letter-spacing:.6px">17:15</span></div></div>

<!-- purple annotations -->
<div class="note">創<b>2022</b>年<b>11</b>月<b>14</b>日以來新高</div>
<svg width="1502" height="786" viewBox="0 0 1502 786" fill="none" stroke="#7030a0">
<rect x="1243.05" y="234.15" width="210.8" height="46.8" rx="1.5" stroke-width="3.7"/>
<rect x="1243.05" y="305.85" width="210.8" height="26" rx="1.5" stroke-width="3.7"/>
<ellipse cx="490.8" cy="371.6" rx="11.8" ry="76.5" stroke-width="3.2"/>
</svg>

<div class="frame"></div>
</body>
</html>
